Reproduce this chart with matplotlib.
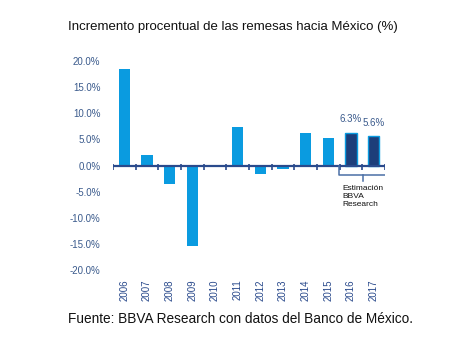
import matplotlib
matplotlib.use("Agg")
import matplotlib.pyplot as plt
import numpy as np

years = ["2006", "2007", "2008", "2009", "2010", "2011", "2012", "2013",
         "2014", "2015", "2016", "2017"]
values = [18.4, 2.1, -3.5, -15.4, -0.2, 7.3, -1.6, -0.6, 6.2, 5.2, 6.3, 5.6]
estimated = [False] * 10 + [True, True]
yticks = [20, 15, 10, 5, 0, -5, -10, -15, -20]

light = "#0A9BE0"
dark = "#1D3E7A"
axis_blue = "#2A4A8C"
label_blue = "#3A5A8C"

plt.rcParams['font.family'] = ['Liberation Sans', 'DejaVu Sans']

fig = plt.figure(figsize=(4.53, 3.64), dpi=100)
ax = fig.add_axes([0.2494, 0.2582, 0.6005, 0.5742])

x = np.arange(len(years))
for xi, v, est in zip(x, values, estimated):
    if est:
        ax.bar(xi, v, width=0.5, color=dark, edgecolor=light, linewidth=1.0, zorder=2)
    else:
        ax.bar(xi, v, width=0.5, color=light, zorder=2)

ax.set_xlim(-0.5, len(years) - 0.5)
ax.set_ylim(-20, 20)

for s in ax.spines.values():
    s.set_visible(False)

ax.axhline(0, color=axis_blue, linewidth=1.6, zorder=3)
for b in np.arange(-0.5, len(years), 1.0):
    ax.plot([b, b], [0.3, -0.8], color=axis_blue, linewidth=1.2, zorder=3,
            solid_capstyle='butt')

ax.set_yticks(yticks)
ax.set_yticklabels([f"{t:.1f}%" for t in yticks], color=label_blue, fontsize=7)
ax.tick_params(axis='y', length=0, pad=9)
ax.set_xticks(x)
ax.set_xticklabels(years, rotation=90, color=axis_blue, fontsize=7)
ax.tick_params(axis='x', length=0, pad=7)

for xi, v, est in zip(x, values, estimated):
    if est:
        ax.text(xi, v + 1.6, f"{v:.1f}%", ha='center', va='bottom',
                color=label_blue, fontsize=7)

# bracket for estimates
bc = "#4A6FA5"
bx0, bx1, bxm = 9.47, 11.54, 10.53
ax.plot([bx0, bx0, bx1, bx1], [0, -1.9, -1.9, 0], color=bc, linewidth=1.1, zorder=3)
ax.plot([bxm, bxm], [-1.9, -2.9], color=bc, linewidth=1.1, zorder=3)
ax.text(9.6, -3.8, "Estimación\nBBVA\nResearch", ha='left', va='top',
        fontsize=6, color='#111111', linespacing=1.15)

fig.text(68 / 453, 1 - 27 / 364, "Incremento procentual de las remesas hacia México (%)",
         ha='left', va='center', fontsize=9.5, color='#111111')
fig.text(68 / 453, 1 - 319 / 364, "Fuente: BBVA Research con datos del Banco de México.",
         ha='left', va='center', fontsize=9.8, color='#111111')

fig.savefig("out.png", dpi=100, facecolor='white')
